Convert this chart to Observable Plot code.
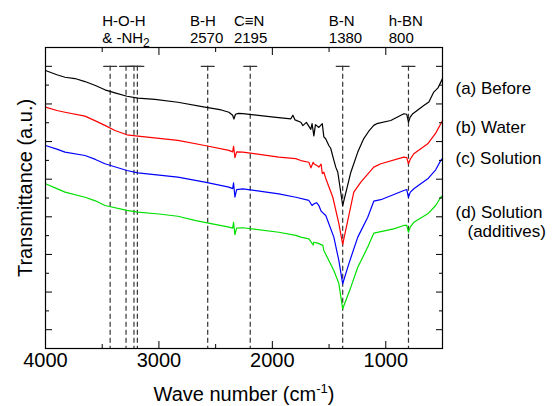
<!DOCTYPE html>
<html><head><meta charset="utf-8">
<script src="https://cdn.jsdelivr.net/npm/d3@7"></script>
<script src="https://cdn.jsdelivr.net/npm/@observablehq/plot@0.6"></script>
<style>
body{margin:0;background:#fff;}
#chart svg{font-family:"Liberation Sans",Arial,Helvetica,sans-serif;background:#fff;}
</style></head><body><div id="chart"></div>
<script>
// ---- data (wave number in cm-1, transmittance in a.u.) ----
const wnA = [4000,3900,3828,3740,3652,3560,3476,3388,3282,3185,3035,2833,2595,2450,2383,2350,2339,2325,2300,2260,1987,1837,1819,1800,1749,1731,1700,1661,1650,1634,1620,1590,1560,1546,1530,1502,1485,1460,1441,1423,1380,1308,1247,1194,1150,1106,1080,956,841,815,800,785,762,665,620,577,540,515,500];
const tA  = [14.78,14.55,14.42,14.35,14.19,13.98,13.75,13.59,13.41,13.31,13.24,13.09,12.83,12.68,12.56,12.40,12.20,12.45,12.50,12.48,12.30,12.21,12.40,12.15,12.03,11.85,12.02,11.65,11.95,11.30,11.90,11.75,11.95,11.25,11.15,10.79,10.63,10.05,9.64,9.37,7.60,9.37,10.44,11.16,11.55,11.86,11.95,12.12,12.48,12.45,12.03,12.30,12.48,12.92,13.10,13.63,13.85,14.16,14.35];

const wnB = [4000,3900,3828,3652,3560,3476,3388,3282,3185,2833,2595,2383,2350,2342,2330,2315,2260,1943,1793,1749,1678,1660,1640,1634,1600,1590,1570,1560,1546,1529,1467,1414,1380,1282,1220,1106,1044,841,815,800,785,753,630,560,515,500];
const tB  = [12.83,12.65,12.56,12.35,12.10,11.86,11.59,11.36,11.29,11.06,10.79,10.53,10.45,10.75,10.15,10.45,10.44,10.17,10.09,9.99,9.90,9.60,9.90,9.82,9.70,9.64,9.80,9.30,9.37,9.04,8.04,6.65,5.53,8.31,8.84,9.64,9.82,10.17,10.15,9.82,10.05,10.35,10.88,11.45,11.95,12.12];

const wnC = [4000,3900,3828,3652,3560,3476,3282,3185,2833,2595,2383,2350,2342,2330,2315,2260,1943,1793,1678,1650,1634,1610,1590,1570,1546,1529,1458,1414,1380,1326,1247,1159,1106,1044,841,815,800,785,753,630,560,515,500];
const tC  = [10.79,10.60,10.44,10.26,10.05,9.82,9.46,9.34,9.11,8.84,8.58,8.50,8.80,8.05,8.45,8.49,8.22,8.04,7.87,7.60,7.69,7.75,7.60,7.30,7.16,7.07,5.92,4.68,3.44,4.50,5.92,6.98,7.83,7.91,8.40,8.45,8.04,8.30,8.49,9.02,9.50,10.00,10.10];

const wnD = [4000,3900,3828,3652,3560,3476,3282,3185,3000,2833,2674,2383,2350,2342,2330,2315,2260,1943,1793,1749,1678,1640,1634,1600,1555,1546,1458,1414,1380,1308,1247,1159,1106,930,841,815,800,785,753,630,560,515,500];
const tD  = [8.76,8.50,8.31,8.04,7.85,7.60,7.34,7.25,7.15,7.03,6.80,6.45,6.40,6.70,6.05,6.40,6.42,6.18,6.01,5.92,5.83,5.50,5.65,5.60,5.48,5.21,4.15,3.46,2.11,3.26,4.32,5.39,6.13,6.36,6.54,6.55,6.18,6.45,6.71,7.16,7.60,8.04,8.13];

const seriesNames  = ["(a) Before","(b) Water","(c) Solution","(d) Solution (additives)"];
const seriesColors = ["#000000","#ff0000","#0000ff","#00e000"];

const peakLines   = [3430, 3290, 3220, 3190, 2570, 2195, 1380, 800];
const peakLabels  = ["H-O-H\n& -NH2","B-H\n2570","C\u2261N\n2195","B-N\n1380","h-BN\n800"];
const peakLabelWn = [3500, 2727, 2339, 1502, 974];
const peakTop = 15;

const legendLabels = ["(a) Before","(b) Water","(c) Solution","(d) Solution"];
const legendY      = [13.80, 11.73, 10.08, 7.25];
const legendSub    = ["(additives)"];
const legendSubY   = [6.21];

const xTickLabels = [1000, 2000, 3000, 4000];
const xTicksMajor = [1000, 2000, 3000];
const xTicksMinor = [1500, 2500, 3500];
const yTicksMajor = [1, 3, 5, 7, 9, 11, 13, 15];
const yTicksMinor = [2, 4, 6, 8, 10, 12, 14];

// ---- build table ----
const spectra = [[wnA,tA],[wnB,tB],[wnC,tC],[wnD,tD]];
const table = spectra.flatMap(([w, t], i) => w.map((x, j) => ({series: seriesNames[i], wn: x, t: t[j]})));
const labelTable = peakLabels.map((l, i) => ({label: l, wn: peakLabelWn[i]}));

const capShape = {draw(ctx, l) { ctx.moveTo(-l / 2, 0); ctx.lineTo(l / 2, 0); }};
const tickAxes = [];
for (const a of ["bottom", "top"]) {
  tickAxes.push(Plot.axisX(xTicksMajor, {anchor: a, tickSize: -7, fill: "none", label: null, stroke: "#000"}));
  tickAxes.push(Plot.axisX(xTicksMinor, {anchor: a, tickSize: -4, fill: "none", label: null, stroke: "#000"}));
}
for (const a of ["left", "right"]) {
  tickAxes.push(Plot.axisY(yTicksMajor, {anchor: a, tickSize: -7, fill: "none", label: null, stroke: "#000"}));
  tickAxes.push(Plot.axisY(yTicksMinor, {anchor: a, tickSize: -4, fill: "none", label: null, stroke: "#000"}));
}

const chart = Plot.plot({
  width: 560, height: 406,
  marginLeft: 45, marginRight: 118, marginTop: 47, marginBottom: 58,
  style: {fontFamily: "'Liberation Sans', Arial, sans-serif", background: "#fff", color: "#000"},
  x: {domain: [4000, 500]},
  y: {domain: [0, 16]},
  color: {domain: seriesNames, range: seriesColors},
  marks: [
    Plot.ruleX(peakLines, {x: d => d, y1: () => peakTop, y2: () => 0, stroke: "#333", strokeWidth: 1.2, strokeDasharray: "5,3"}),
    Plot.vector(peakLines, {x: d => d, y: () => peakTop, length: 13, rotate: 0, anchor: "start", shape: capShape, stroke: "#333", strokeWidth: 1.2}),
    Plot.line(table, {x: "wn", y: "t", z: "series", stroke: "series", strokeWidth: 1.2}),
    Plot.frame({stroke: "#000", strokeWidth: 1.2}),
    ...tickAxes,
    Plot.axisX(xTickLabels, {anchor: "bottom", tickSize: 0, tickPadding: 4, fontSize: 20, label: null, tickFormat: d => String(d)}),
    Plot.text(labelTable, {x: "wn", text: "label", frameAnchor: "top", lineAnchor: "bottom", textAnchor: "start", fontSize: 15, lineHeight: 1.13, dy: -5}),
    Plot.text(legendLabels, {y: (d, i) => legendY[i], text: d => d, frameAnchor: "right", textAnchor: "start", dx: 13, fontSize: 17}),
    Plot.text(legendSub, {y: (d, i) => legendSubY[i], text: d => d, frameAnchor: "right", textAnchor: "start", dx: 25, fontSize: 17}),
    Plot.text(["Wave number (cm-1)"], {frameAnchor: "bottom", lineAnchor: "bottom", dy: 52, fontSize: 20, text: d => d}),
    Plot.text(["Transmittance (a.u.)"], {frameAnchor: "left", textAnchor: "middle", rotate: -90, dx: -20, dy: -10, fontSize: 20, text: d => d})
  ]
});
document.getElementById("chart").append(chart);

// ---- sub/superscripts ----
const ns = "http://www.w3.org/2000/svg";
chart.querySelectorAll("tspan").forEach(ts => {
  if (ts.textContent === "& -NH2") {
    ts.textContent = "& -NH";
    const sub = document.createElementNS(ns, "tspan");
    sub.setAttribute("dy", "4"); sub.setAttribute("font-size", "12");
    sub.textContent = "2";
    ts.append(sub);
  }
});
chart.querySelectorAll("text").forEach(t => {
  if (t.textContent === "Wave number (cm-1)" && !t.querySelector("tspan")) {
    t.textContent = "Wave number (cm";
    const sup = document.createElementNS(ns, "tspan");
    sup.setAttribute("dy", "-8"); sup.setAttribute("font-size", "13");
    sup.textContent = "-1";
    const close = document.createElementNS(ns, "tspan");
    close.setAttribute("dy", "8");
    close.textContent = ")";
    t.append(sup, close);
  }
});
</script></body></html>
